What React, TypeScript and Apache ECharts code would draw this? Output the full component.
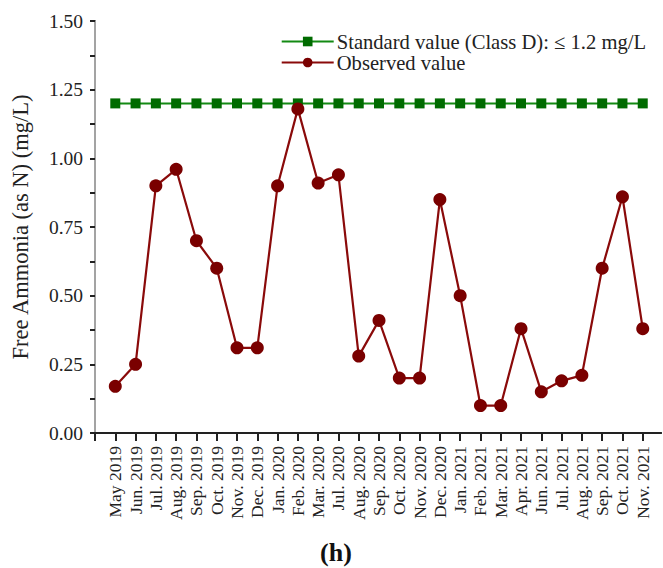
import React, { useEffect, useRef } from "react";
import * as echarts from "echarts";

// Sampling months
const months: string[] = [
  "May 2019", "Jun. 2019", "Jul. 2019", "Aug. 2019", "Sep. 2019", "Oct. 2019",
  "Nov. 2019", "Dec. 2019", "Jan. 2020", "Feb. 2020", "Mar. 2020", "Jul. 2020",
  "Aug. 2020", "Sep. 2020", "Oct. 2020", "Nov. 2020", "Dec. 2020", "Jan. 2021",
  "Feb. 2021", "Mar. 2021", "Apr. 2021", "Jun. 2021", "Jul. 2021", "Aug. 2021",
  "Sep. 2021", "Oct. 2021", "Nov. 2021",
];

// Free ammonia (as N), mg/L
const observed: number[] = [
  0.17, 0.25, 0.9, 0.96, 0.7, 0.6, 0.31, 0.31, 0.9, 1.18, 0.91, 0.94, 0.28, 0.41,
  0.2, 0.2, 0.85, 0.5, 0.1, 0.1, 0.38, 0.15, 0.19, 0.21, 0.6, 0.86, 0.38,
];

// Class D limit
const standardLimit = 1.2;
const standard: number[] = months.map(() => standardLimit);

const yTicks: number[] = [0, 0.25, 0.5, 0.75, 1.0, 1.25, 1.5];

const SERIF = "'Liberation Serif', 'Times New Roman', serif";
const INK = "#222";

export default function App() {
  const ref = useRef<HTMLDivElement>(null);

  useEffect(() => {
    document.body.style.margin = "0";
    if (!ref.current) return;
    const chart = echarts.init(ref.current, undefined, { renderer: "svg" });

    const positions = months.map((_, i) => i + 1);
    const xMax = months.length + 0.9;

    chart.setOption({
      animation: false,
      backgroundColor: "#fff",
      grid: { left: 95, right: 2, top: 21, bottom: 135, containLabel: false },
      legend: {
        orient: "vertical",
        right: 12,
        top: 26,
        itemWidth: 52,
        itemHeight: 12,
        itemGap: 0,
        textStyle: { fontFamily: SERIF, fontSize: 20.6, color: INK, padding: [0, 0, 0, -2] },
        data: ["Standard value (Class D): \u2264 1.2 mg/L", "Observed value"],
      },
      xAxis: [
        {
          type: "value",
          min: 0,
          max: xMax,
          splitLine: { show: false },
          axisLine: { show: true, lineStyle: { color: INK, width: 2 } },
          axisTick: {
            show: true,
            inside: false,
            length: 8,
            lineStyle: { color: INK, width: 2 },
            customValues: [0, ...positions],
          },
          axisLabel: {
            rotate: 90,
            margin: 13,
            fontFamily: SERIF,
            fontSize: 17.5,
            color: INK,
            customValues: positions,
            formatter: (v: number) => months[Math.round(v) - 1] ?? "",
          },
        },
        {
          type: "value",
          position: "top",
          min: 0,
          max: xMax,
          splitLine: { show: false },
          axisLine: { show: true, lineStyle: { color: INK, width: 2 } },
          axisTick: { show: false },
          axisLabel: { show: false },
        },
      ],
      yAxis: [
        {
          type: "value",
          min: 0,
          max: 1.5,
          interval: 0.25,
          name: "Free Ammonia (as N) (mg/L)",
          nameLocation: "middle",
          nameRotate: 90,
          nameGap: 63,
          nameTextStyle: { fontFamily: SERIF, fontSize: 22.5, color: INK },
          splitLine: { show: false },
          axisLine: { show: true, lineStyle: { color: INK, width: 2 } },
          axisTick: { show: true, inside: false, length: 5, lineStyle: { color: INK, width: 2 } },
          minorTick: { show: true, splitNumber: 2, length: 5, lineStyle: { color: INK, width: 2 } },
          axisLabel: {
            margin: 12,
            fontFamily: SERIF,
            fontSize: 19.5,
            color: INK,
            customValues: yTicks,
            formatter: (v: number) => v.toFixed(2),
          },
        },
        {
          type: "value",
          position: "right",
          min: 0,
          max: 1.5,
          splitLine: { show: false },
          axisLine: { show: true, lineStyle: { color: "#cfcfcf", width: 1.5 } },
          axisTick: { show: false },
          axisLabel: { show: false },
        },
      ],
      series: [
        {
          name: "Standard value (Class D): \u2264 1.2 mg/L",
          type: "line",
          data: standard.map((v, i) => [positions[i], v]),
          symbol: "rect",
          symbolSize: 10,
          lineStyle: { color: "#138a13", width: 2 },
          itemStyle: { color: "#006b00" },
          z: 2,
        },
        {
          name: "Observed value",
          type: "line",
          data: observed.map((v, i) => [positions[i], v]),
          symbol: "circle",
          symbolSize: 13,
          lineStyle: { color: "#8a0a0a", width: 2.2 },
          itemStyle: { color: "#7a0000" },
          z: 3,
        },
      ],
      graphic: [
        {
          type: "text",
          x: 336,
          y: 552,
          style: {
            text: "(h)",
            fontFamily: SERIF,
            fontWeight: "bold",
            fontSize: 26,
            fill: "#111",
            textAlign: "center",
            textVerticalAlign: "middle",
          },
        },
      ],
    });

    return () => chart.dispose();
  }, []);

  return <div ref={ref} style={{ width: 663, height: 568 }} />;
}
